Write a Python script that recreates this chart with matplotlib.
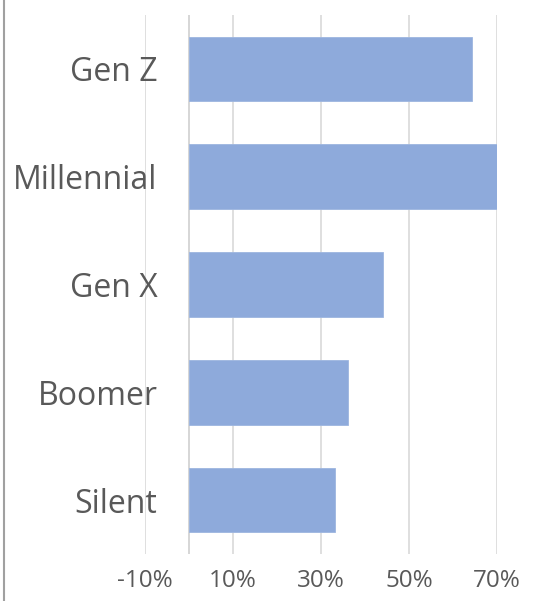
import matplotlib
matplotlib.use("Agg")
import matplotlib.pyplot as plt
from matplotlib.lines import Line2D
from matplotlib.ticker import FuncFormatter

categories = ["Gen Z", "Millennial", "Gen X", "Boomer", "Silent"]
values = [64.3, 70.0, 44.1, 36.1, 33.2]
xticks = [-10, 10, 30, 50, 70]

plt.rcParams['font.family'] = ['Open Sans', 'DejaVu Sans']

fig = plt.figure(figsize=(5.38, 6.01), dpi=100)
W, H = 538, 601
ax = fig.add_axes([145 / W, (H - 554) / H, (497 - 145) / W, (554 - 15) / H])

ypos = list(range(len(categories)))
ax.barh(ypos, values, height=0.6, color="#8eaadb", edgecolor="#9db6e0", linewidth=0.6, zorder=3)
ax.set_ylim(len(categories) - 0.5, -0.5)
ax.set_xlim(-10, 70)

ax.set_xticks(xticks)
ax.xaxis.set_major_formatter(FuncFormatter(lambda v, p: f"{int(v)}%"))
ax.set_yticks(ypos)
ax.set_yticklabels(categories)

ax.grid(axis="x", color="#d9d9d9", linewidth=1.2, zorder=0)
ax.axvline(0, color="#d0d0d0", linewidth=1.2, zorder=1)
for s in ax.spines.values():
    s.set_visible(False)
ax.tick_params(axis="both", length=0)
ax.tick_params(axis="y", pad=-9, labelsize=23, labelcolor="#595959")
ax.tick_params(axis="x", pad=11, labelsize=17.5, labelcolor="#595959")
for lbl in ax.get_yticklabels():
    lbl.set_zorder(5)

fig.add_artist(Line2D([4 / W, 4 / W], [0, 1], color="#a0a0a0", linewidth=1.5, transform=fig.transFigure))

fig.savefig("out.png", dpi=100)
